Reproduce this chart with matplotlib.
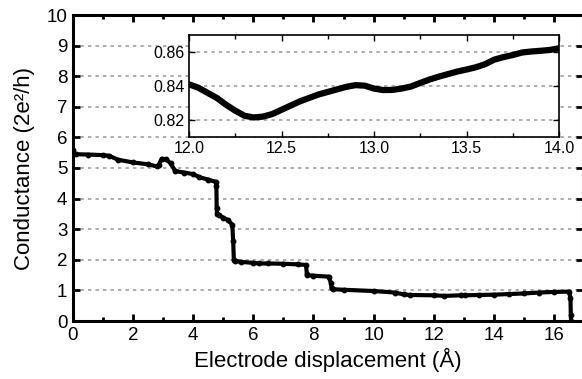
import matplotlib
matplotlib.use("Agg")
import matplotlib.pyplot as plt
from matplotlib.ticker import MultipleLocator

plt.rcParams["font.family"] = ["Liberation Sans", "DejaVu Sans"]

# main trace: electrode displacement (A) vs conductance (2e^2/h)
main_x = [0.0, 0.0, 0.1, 0.5, 1.0, 1.2, 1.5, 2.0, 2.5, 2.8, 2.85, 2.95, 3.1,
          3.25, 3.4, 3.7, 4.0, 4.2, 4.5, 4.75, 4.77, 4.78, 4.79, 4.85, 5.0,
          5.15, 5.3, 5.33, 5.35, 5.4, 5.6, 6.0, 6.2, 6.5, 7.0, 7.5, 7.75,
          7.78, 7.8, 8.0, 8.5, 8.58, 8.6, 8.65, 9.0, 10.0, 10.7, 11.0, 11.2,
          12.0, 12.35, 12.9, 13.05, 13.5, 14.0, 14.5, 15.0, 15.5, 16.0, 16.5,
          16.55, 16.56, 16.57]
main_y = [5.6, 5.47, 5.45, 5.44, 5.42, 5.4, 5.27, 5.18, 5.12, 5.05, 5.1, 5.3,
          5.28, 5.15, 4.9, 4.85, 4.8, 4.7, 4.62, 4.55, 4.4, 3.7, 3.5, 3.45,
          3.38, 3.3, 3.15, 2.6, 2.0, 1.96, 1.93, 1.9, 1.88, 1.88, 1.87, 1.85,
          1.83, 1.55, 1.5, 1.48, 1.45, 1.25, 1.07, 1.04, 1.02, 0.98, 0.93,
          0.87, 0.85, 0.84, 0.82, 0.84, 0.84, 0.85, 0.86, 0.88, 0.9, 0.93,
          0.95, 0.96, 0.75, 0.2, 0.0]

# inset: zoom on 12-14 A
inset_x = [12.0, 12.05, 12.1, 12.15, 12.2, 12.25, 12.3, 12.35, 12.4, 12.45,
           12.5, 12.55, 12.6, 12.65, 12.7, 12.75, 12.8, 12.85, 12.9, 12.95,
           13.0, 13.05, 13.1, 13.15, 13.2, 13.25, 13.3, 13.35, 13.4, 13.45,
           13.5, 13.55, 13.6, 13.65, 13.7, 13.75, 13.8, 13.85, 13.9, 13.95,
           14.0]
inset_y = [0.841, 0.839, 0.836, 0.833, 0.829, 0.8255, 0.8225, 0.8215, 0.822,
           0.8235, 0.826, 0.8285, 0.831, 0.833, 0.835, 0.8365, 0.838, 0.8395,
           0.8405, 0.8402, 0.8385, 0.8376, 0.8377, 0.8385, 0.8397, 0.8418,
           0.8438, 0.8455, 0.847, 0.8485, 0.8497, 0.851, 0.8528, 0.8555,
           0.857, 0.8582, 0.8597, 0.8603, 0.8607, 0.8612, 0.8622]

grid_kw = dict(color="#a0a0a0", linestyle=(0, (2, 2.5)), linewidth=1.2)

fig = plt.figure(figsize=(5.82, 3.79), dpi=100)
ax = fig.add_axes([73 / 582, 58 / 379, 510 / 582, 306 / 379])
ax.plot(main_x, main_y, color="black", lw=3, marker="o", ms=3.2)
ax.set_xlim(0, 510 / 30.06)
ax.set_ylim(0, 10)
ax.xaxis.set_major_locator(MultipleLocator(2))
ax.xaxis.set_minor_locator(MultipleLocator(1))
ax.yaxis.set_major_locator(MultipleLocator(1))
ax.tick_params(which="both", direction="in", top=True, right=True,
               width=2, labelsize=13.5)
ax.tick_params(which="major", length=5, pad=4)
ax.tick_params(which="minor", length=3)
for s in ax.spines.values():
    s.set_linewidth(2.2)
ax.yaxis.grid(True, **grid_kw)
ax.set_axisbelow(True)
ax.set_xlabel("Electrode displacement (Å)", fontsize=16, labelpad=3)
ax.set_ylabel("Conductance (2e\u00b2/h)", fontsize=16, labelpad=8)

ins = fig.add_axes([189 / 582, 242 / 379, 370 / 582, 102 / 379])
ins.plot(inset_x, inset_y, color="black", lw=4.5, solid_capstyle="round")
ins.set_xlim(12.0, 14.0)
ins.set_ylim(0.81, 0.87)
ins.xaxis.set_major_locator(MultipleLocator(0.5))
ins.xaxis.set_minor_locator(MultipleLocator(0.25))
ins.set_yticks([0.82, 0.84, 0.86])
ins.xaxis.set_major_formatter(plt.FormatStrFormatter("%.1f"))
ins.tick_params(which="both", direction="in", top=True, right=True,
                width=1, labelsize=11.5, pad=3)
ins.tick_params(which="major", length=4)
ins.tick_params(which="minor", length=3)
for s in ins.spines.values():
    s.set_linewidth(1.2)
ins.yaxis.grid(True, **grid_kw)
ins.set_axisbelow(True)

fig.savefig("out.png", dpi=100)
